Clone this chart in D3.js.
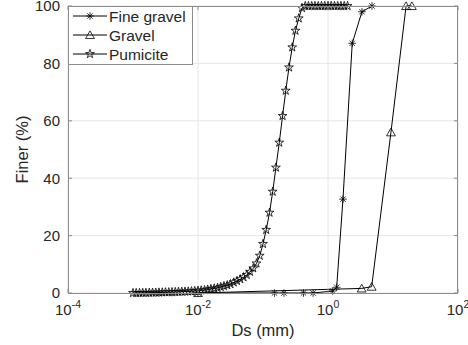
<!DOCTYPE html>
<html>
<head>
<meta charset="utf-8">
<script src="https://cdn.jsdelivr.net/npm/d3@7"></script>
<style>
  html, body { margin: 0; padding: 0; background: #fff; }
  svg { display: block; font-family: "Liberation Sans", Arial, Helvetica, sans-serif; }
</style>
</head>
<body>
<div id="chart"></div>
<script>
// grain size (mm) and percent finer
var pumiciteSize = [0.001, 0.00112, 0.00126, 0.00141, 0.00158, 0.00178, 0.002, 0.00224, 0.00251, 0.00282,
	0.00316, 0.00355, 0.00398, 0.00447, 0.00501, 0.00562, 0.00631, 0.00708, 0.00794, 0.00891,
	0.01, 0.0112, 0.0126, 0.0141, 0.0158, 0.0178, 0.02, 0.0224, 0.0251, 0.0282,
	0.0316, 0.0355, 0.0398, 0.0447, 0.0501, 0.0562, 0.0631, 0.0708, 0.0794, 0.0891,
	0.1, 0.112, 0.126, 0.141, 0.158, 0.178, 0.2, 0.224, 0.251, 0.282,
	0.316, 0.355, 0.398, 0.447, 0.501, 0.562, 0.631, 0.708, 0.794, 0.891,
	1.0, 1.12, 1.26, 1.41, 1.58, 1.78, 2.0];
var pumiciteFiner = [0, 0.01, 0.02, 0.04, 0.06, 0.08, 0.11, 0.14, 0.17, 0.2,
	0.24, 0.27, 0.3, 0.35, 0.4, 0.45, 0.5, 0.55, 0.6, 0.7,
	0.8, 0.9, 1.0, 1.2, 1.4, 1.6, 1.8, 2.1, 2.4, 2.7,
	3.1, 3.7, 4.2, 4.8, 5.5, 6.3, 7.4, 8.6, 10.3, 13.0,
	17.1, 22.0, 28.0, 35.3, 43.7, 52.4, 61.7, 70.5, 78.6, 85.6,
	91.4, 95.7, 99.3, 100, 100, 100, 100, 100, 100, 100,
	100, 100, 100, 100, 100, 100, 100];

var fineGravelSize = [0.01, 0.15, 0.21, 0.42, 0.59, 1.18, 1.36, 1.7, 2.36, 3.33, 4.75];
var fineGravelFiner = [0, 0, 0, 0, 0, 0.7, 2.0, 32.7, 87, 98, 100];

var gravelSize = [0.01, 3.3, 4.7, 9.3, 15.9, 19.5];
var gravelFiner = [0, 1.6, 2.2, 56, 100, 100];

var seriesNames = ["Fine gravel", "Gravel", "Pumicite"];
var xTicks = [1e-4, 1e-2, 1, 1e2];
var yTicks = [0, 20, 40, 60, 80, 100];

var W = 468, H = 345,
	pL = 68, pR = 458, pT = 6, pB = 293,
	ink = "#262626";

var svg = d3.select("#chart").append("svg")
	.attr("width", W)
	.attr("height", H);

var x = d3.scaleLog().domain([1e-4, 1e2]).range([pL, pR]);
var y = d3.scaleLinear().domain([0, 100]).range([pB, pT]);

// grid
var grid = svg.append("g").attr("stroke", "#e6e6e6").attr("stroke-width", 1);
xTicks.forEach(function (t) {
	grid.append("line").attr("x1", x(t)).attr("x2", x(t)).attr("y1", pT).attr("y2", pB);
});
yTicks.forEach(function (t) {
	grid.append("line").attr("x1", pL).attr("x2", pR).attr("y1", y(t)).attr("y2", y(t));
});

// series
var series = [
	{ name: seriesNames[0], marker: "asterisk", data: d3.zip(fineGravelSize, fineGravelFiner) },
	{ name: seriesNames[1], marker: "triangle", data: d3.zip(gravelSize, gravelFiner) },
	{ name: seriesNames[2], marker: "star", data: d3.zip(pumiciteSize, pumiciteFiner) }
];

var line = d3.line()
	.x(function (d) { return x(d[0]); })
	.y(function (d) { return y(d[1]); });

var asterisk = function (r) {
	var d = r * 0.7071;
	return "M0," + (-r) + "V" + r + "M" + (-r) + ",0H" + r +
		"M" + (-d) + "," + (-d) + "L" + d + "," + d +
		"M" + (-d) + "," + d + "L" + d + "," + (-d);
};
var markerPath = function (type) {
	if (type === "asterisk") return asterisk(3.8);
	if (type === "triangle") return d3.symbol(d3.symbolTriangle, 34)();
	return d3.symbol(d3.symbolStar, 24)();
};

var plot = svg.append("g");
series.forEach(function (s) {
	plot.append("path")
		.attr("d", line(s.data))
		.attr("fill", "none")
		.attr("stroke", "#000")
		.attr("stroke-width", 1);
	plot.append("g").selectAll("path")
		.data(s.data)
		.join("path")
		.attr("transform", function (d) {
			return "translate(" + x(d[0]) + "," + (y(d[1]) + (s.marker === "triangle" ? 1 : 0)) + ")";
		})
		.attr("d", markerPath(s.marker))
		.attr("fill", "none")
		.attr("stroke", "#000")
		.attr("stroke-width", 0.8);
});

// axes box
var axes = svg.append("g").attr("stroke", "#8c8c8c").attr("stroke-width", 1).attr("fill", "none");
axes.append("rect")
	.attr("x", pL + 0.5).attr("y", pT + 0.5)
	.attr("width", pR - pL - 1).attr("height", pB - pT);
xTicks.forEach(function (t) {
	axes.append("line").attr("x1", x(t)).attr("x2", x(t)).attr("y1", pB).attr("y2", pB - 4);
	axes.append("line").attr("x1", x(t)).attr("x2", x(t)).attr("y1", pT).attr("y2", pT + 4);
});
yTicks.forEach(function (t) {
	axes.append("line").attr("x1", pL).attr("x2", pL + 4).attr("y1", y(t)).attr("y2", y(t));
	axes.append("line").attr("x1", pR).attr("x2", pR - 4).attr("y1", y(t)).attr("y2", y(t));
});

// tick labels
var labels = svg.append("g").attr("fill", ink).attr("font-size", 15);
yTicks.forEach(function (t) {
	labels.append("text")
		.attr("x", pL - 8)
		.attr("y", y(t))
		.attr("dy", "0.36em")
		.attr("text-anchor", "end")
		.text(t);
});
xTicks.forEach(function (t) {
	var txt = labels.append("text")
		.attr("x", x(t))
		.attr("y", pB + 22)
		.attr("text-anchor", "middle");
	txt.append("tspan").text("10");
	txt.append("tspan")
		.attr("dy", -7)
		.attr("font-size", 10.5)
		.text(Math.round(Math.log10(t)));
});

svg.append("text")
	.attr("x", (pL + pR) / 2)
	.attr("y", 336)
	.attr("text-anchor", "middle")
	.attr("fill", ink)
	.attr("font-size", 16.5)
	.text("Ds (mm)");

svg.append("text")
	.attr("transform", "translate(28," + ((pT + pB) / 2) + ") rotate(-90)")
	.attr("text-anchor", "middle")
	.attr("fill", ink)
	.attr("font-size", 16.5)
	.text("Finer (%)");

// legend
var legend = svg.append("g");
legend.append("rect")
	.attr("x", pL + 0.5).attr("y", pT + 0.5)
	.attr("width", 124).attr("height", 58)
	.attr("fill", "#fff")
	.attr("stroke", "#8c8c8c");
series.forEach(function (s, i) {
	var cy = 16 + i * 19;
	legend.append("line")
		.attr("x1", 73).attr("x2", 107).attr("y1", cy).attr("y2", cy)
		.attr("stroke", "#000").attr("stroke-width", 1);
	legend.append("path")
		.attr("transform", "translate(90," + (cy + (s.marker === "triangle" ? 1 : 0)) + ")")
		.attr("d", markerPath(s.marker))
		.attr("fill", "none")
		.attr("stroke", "#000")
		.attr("stroke-width", 0.8);
	legend.append("text")
		.attr("x", 109)
		.attr("y", cy)
		.attr("dy", "0.36em")
		.attr("fill", ink)
		.attr("font-size", 15.5)
		.text(s.name);
});
</script>
</body>
</html>
